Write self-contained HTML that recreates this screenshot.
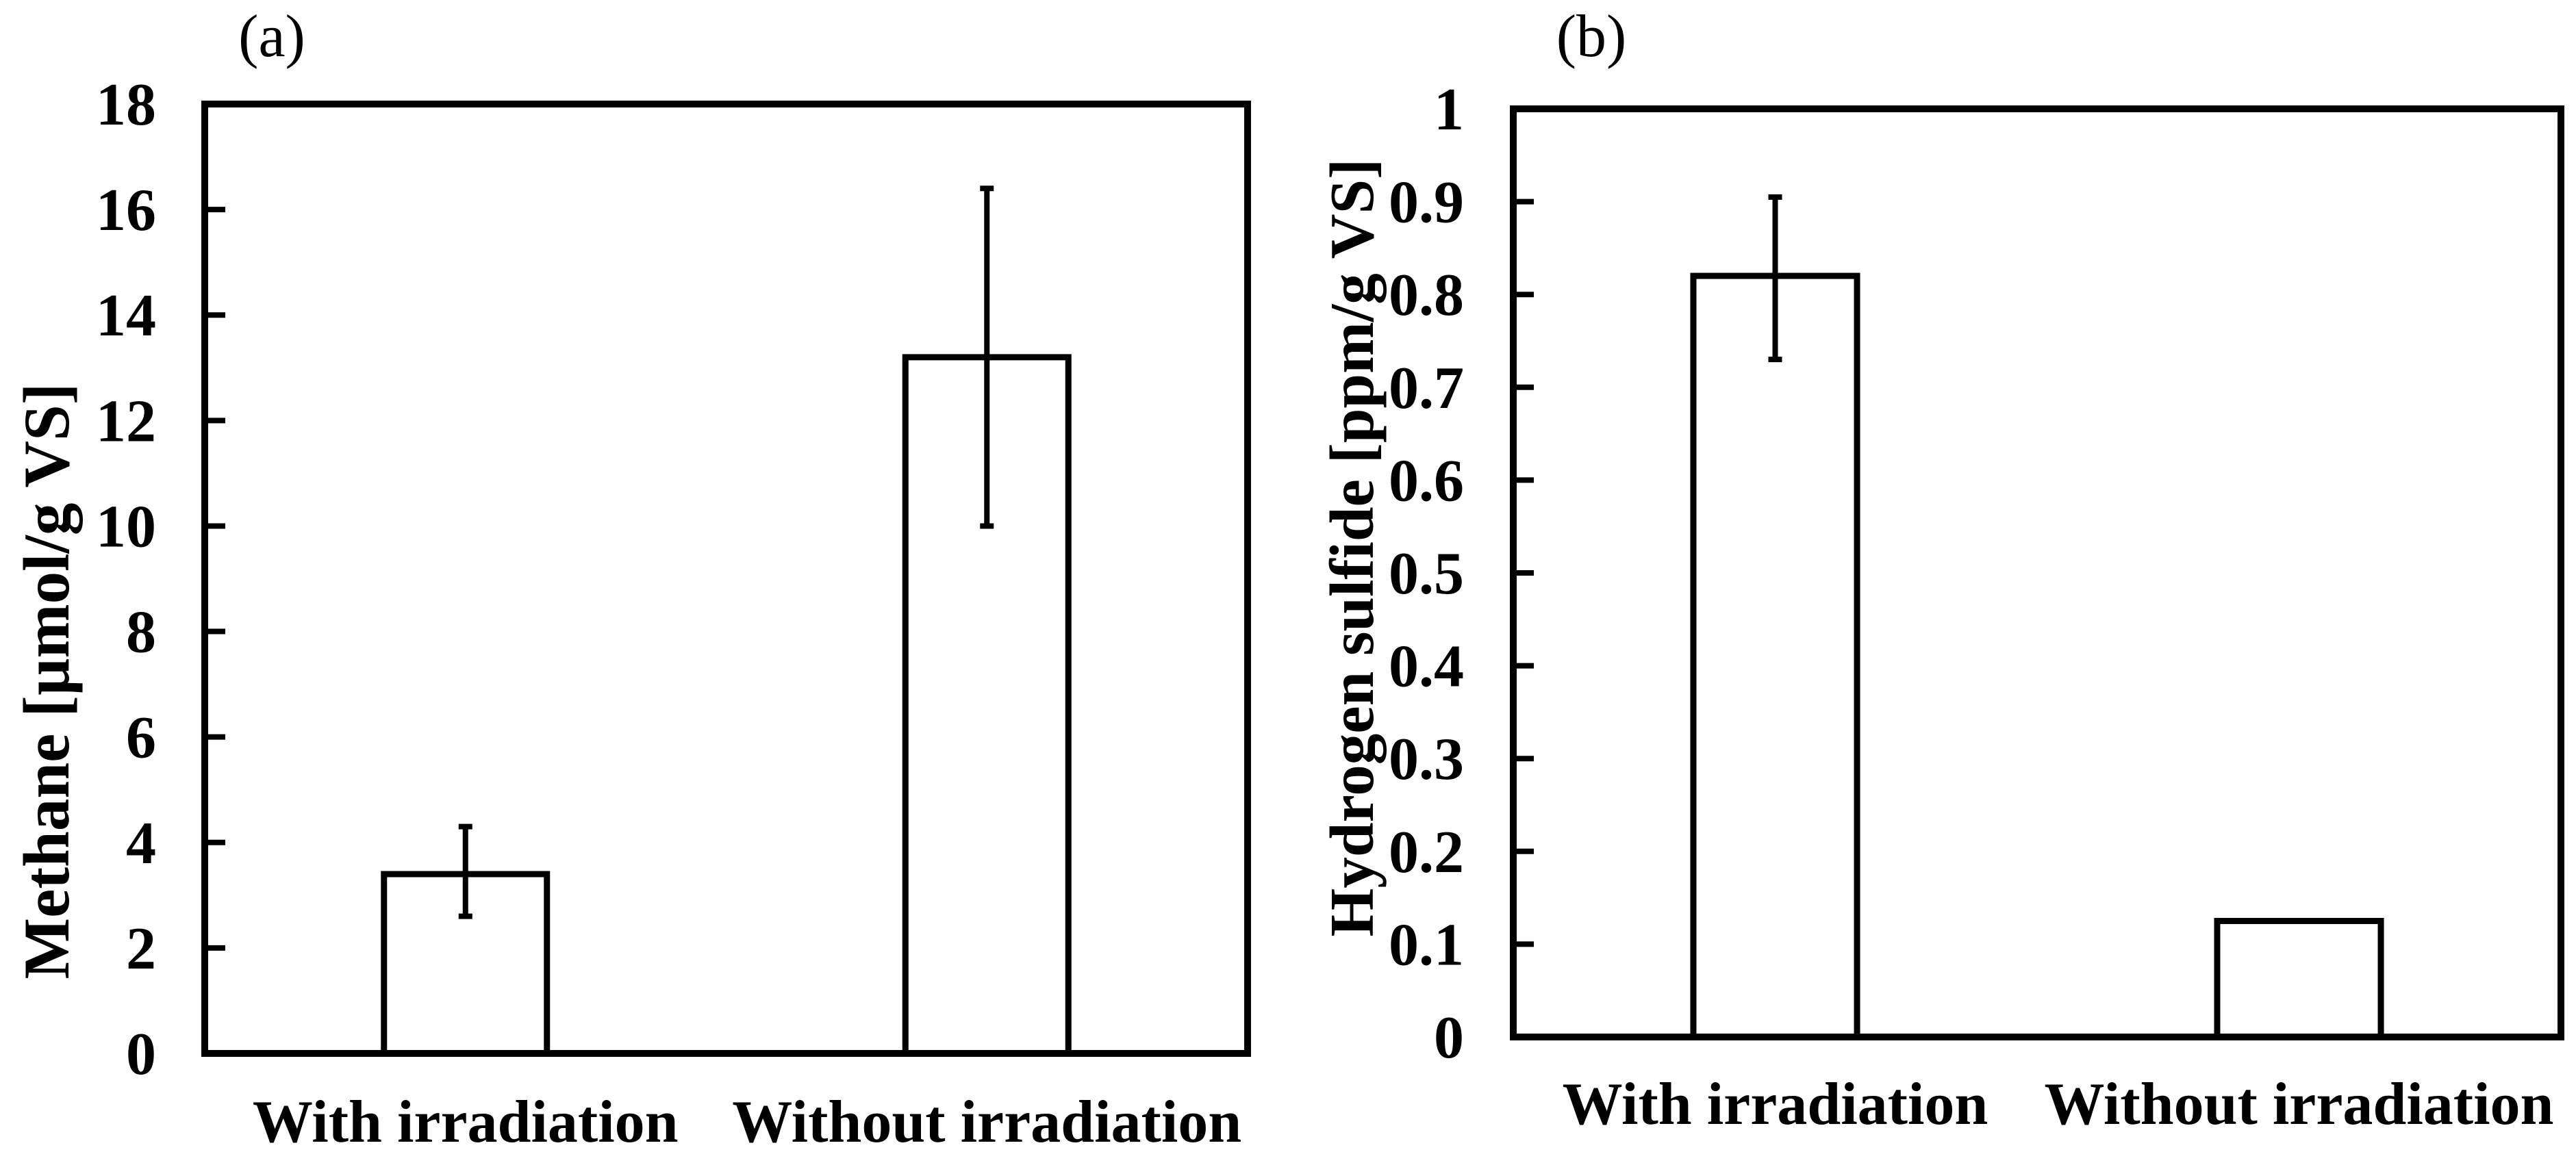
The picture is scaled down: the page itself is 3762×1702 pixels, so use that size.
<!DOCTYPE html>
<html><head><meta charset="utf-8"><style>
html,body{margin:0;padding:0;background:#fff;width:3762px;height:1702px;overflow:hidden}
svg text{font-family:"Liberation Serif",serif;fill:#000}
</style></head><body>
<svg id="chart" width="3762" height="1702" viewBox="0 0 3762 1702" xmlns="http://www.w3.org/2000/svg"></svg>
<script>
const categories = ["With irradiation", "Without irradiation"];
const methaneValues = [3.4, 13.2];
const methaneErrLow = [2.6, 10.0];
const methaneErrHigh = [4.3, 16.4];
const methaneTicks = [0, 2, 4, 6, 8, 10, 12, 14, 16, 18];
const h2sValues = [0.82, 0.125];
const h2sErrLow = [0.73, null];
const h2sErrHigh = [0.905, null];
const h2sTicks = [0, 0.1, 0.2, 0.3, 0.4, 0.5, 0.6, 0.7, 0.8, 0.9, 1];

const svg = document.getElementById('chart');
const NS = 'http://www.w3.org/2000/svg';
function mk(tag, attrs, parent) {
  const e = document.createElementNS(NS, tag);
  for (const k in attrs) e.setAttribute(k, attrs[k]);
  (parent || svg).appendChild(e);
  return e;
}

function panel(cfg) {
  const g = mk('g', {});
  
  
  const {x0, x1, y0, y1, max} = cfg;
  const yScale = v => y1 - (v / max) * (y1 - y0);
  const band = (x1 - x0) / cfg.cats.length;
  const xCenter = i => x0 + band * (i + 0.5);
  const bw = band * 0.3125;
  cfg.vals.forEach((v, i) => {
    const r = mk('rect', {x: xCenter(i) - bw / 2, y: yScale(v), width: bw, height: y1 - yScale(v), fill: '#fff', stroke: '#000', 'stroke-width': 9}, g);
    
    
    if (cfg.lo[i] != null) {
      const eg = mk('g', {stroke: '#000', 'stroke-width': 8}, g);
      
      
      const cx = xCenter(i);
      mk('line', {x1: cx, x2: cx, y1: yScale(cfg.lo[i]), y2: yScale(cfg.hi[i])}, eg);
      mk('line', {x1: cx - 10, x2: cx + 10, y1: yScale(cfg.lo[i]), y2: yScale(cfg.lo[i])}, eg);
      mk('line', {x1: cx - 10, x2: cx + 10, y1: yScale(cfg.hi[i]), y2: yScale(cfg.hi[i])}, eg);
    }
  });
  const f = mk('rect', {x: x0, y: y0, width: x1 - x0, height: y1 - y0, fill: 'none', stroke: '#000', 'stroke-width': 10}, g);
  
  
  cfg.ticks.forEach(t => {
    const y = yScale(t);
    const tl = mk('line', {x1: x0, x2: x0 + 30, y1: y, y2: y, stroke: '#000', 'stroke-width': 8}, g);
    
    
    const tx = mk('text', {x: cfg.labelX, y: y + 30, 'text-anchor': 'end', 'font-size': 88, 'font-weight': 'bold'}, g);
    tx.textContent = String(t);
    
    
  });
  cfg.cats.forEach((c, i) => {
    const tx = mk('text', {x: xCenter(i), y: cfg.catY, 'text-anchor': 'middle', 'font-size': 88, 'font-weight': 'bold'}, g);
    tx.textContent = c;
    
    
  });
  const yt = mk('text', {x: 0, y: 0, transform: `translate(${cfg.titleX},${cfg.titleY}) rotate(-90)`, 'text-anchor': 'middle', 'font-size': cfg.titleSize, 'font-weight': 'bold'}, g);
  yt.textContent = cfg.yTitle;
  
  
  const pl = mk('text', {x: cfg.pX, y: 82, 'text-anchor': 'middle', 'font-size': 88}, g);
  pl.textContent = cfg.pLabel;
  
  
}

panel({name: 'methane-panel', x0: 299, x1: 1822, y0: 152, y1: 1539, max: 18,
  vals: methaneValues, lo: methaneErrLow, hi: methaneErrHigh, ticks: methaneTicks, cats: categories,
  labelX: 228, catY: 1668, titleX: 100, titleY: 995, titleSize: 95, yTitle: 'Methane [µmol/g VS]', pX: 397, pLabel: '(a)'});
panel({name: 'hydrogen-sulfide-panel', x0: 2210, x1: 3740, y0: 159, y1: 1515, max: 1,
  vals: h2sValues, lo: h2sErrLow, hi: h2sErrHigh, ticks: h2sTicks, cats: categories,
  labelX: 2138, catY: 1642, titleX: 2005, titleY: 800, titleSize: 91, yTitle: 'Hydrogen sulfide [ppm/g VS]', pX: 2324, pLabel: '(b)'});
</script>
</body></html>
